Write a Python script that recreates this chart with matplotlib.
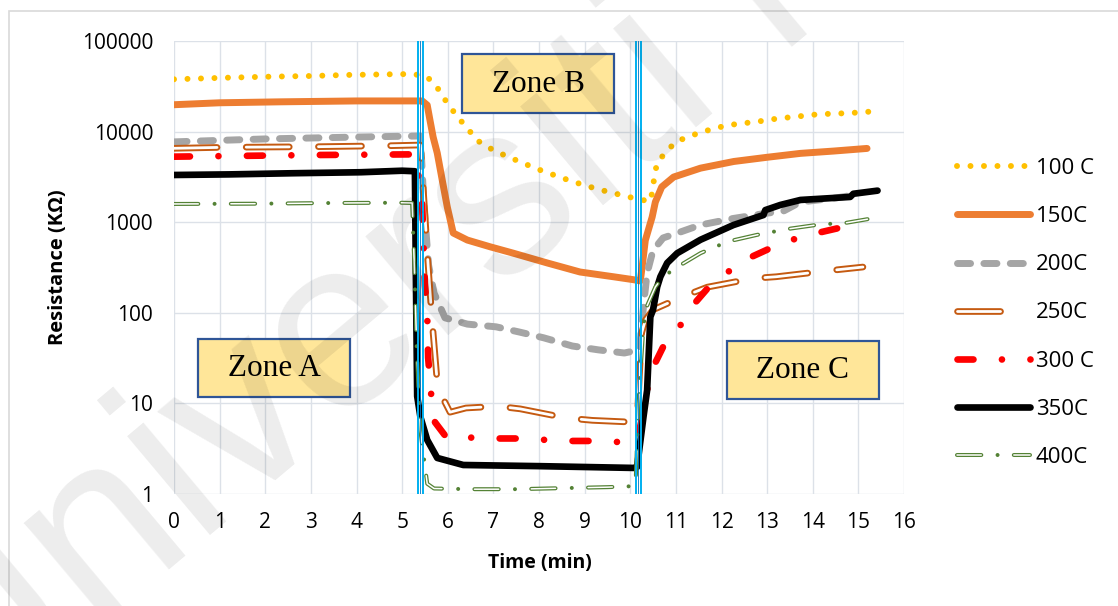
"""
Sensor resistance vs. time for a gas exposure cycle at seven operating temperatures.
Writes out.png.
"""
import matplotlib
matplotlib.use('Agg')
import matplotlib.pyplot as plt
import matplotlib.patches as mpatches
from matplotlib.lines import Line2D
from matplotlib.ticker import FixedLocator, NullLocator

plt.rcParams['font.family'] = ['Open Sans', 'DejaVu Sans']
plt.rcParams['lines.scale_dashes'] = False   # dash lengths below are in points

# ─── Data ────────────────────────────────────────────────────────────────────
# time in minutes, resistance in kOhm
t_100 = [0.0, 1.2, 2.1, 3.0, 3.8, 4.7, 5.25, 5.55, 5.75, 5.9, 6.07, 6.25, 6.45, 6.6,
         6.84, 7.1, 7.39, 7.65, 7.94, 8.2, 8.49, 8.75, 9.06, 9.32, 9.61, 9.89, 10.15,
         10.44, 10.5, 10.53, 10.6, 10.8, 11.0, 11.3, 11.6, 11.9, 12.15, 12.5, 12.75,
         13.0, 13.3, 13.6, 13.9, 14.2, 14.5, 14.8, 15.1, 15.4]
r_100 = [37800, 39400, 40400, 41100, 42200, 42900, 43200, 40000, 31800, 24000, 18200,
         13800, 10700, 8300, 6900, 5900, 5100, 4500, 3900, 3500, 3100, 2800, 2500, 2300,
         2100, 1950, 1800, 1700, 2370, 3400, 4600, 6100, 7700, 8900, 10000, 11000, 11800,
         12400, 12800, 13400, 14100, 14500, 15200, 15600, 15800, 16000, 16400, 16800]

t_150 = [0.0, 1.0, 2.3, 4.0, 5.44, 5.55, 5.61, 5.68, 5.77, 5.88, 5.99, 6.12, 6.43, 6.93,
         7.43, 8.18, 8.9, 9.63, 10.07, 10.22, 10.26, 10.33, 10.48, 10.55, 10.69, 10.95,
         11.54, 12.27, 12.99, 13.73, 14.46, 15.19]
r_150 = [19800, 20800, 21300, 21800, 21800, 19600, 13400, 8700, 5800, 2900, 1470, 760,
         635, 535, 456, 355, 282, 250, 232, 225, 320, 630, 1140, 1670, 2450, 3150, 3950,
         4680, 5200, 5750, 6100, 6520]

t_200 = [0.0, 1.0, 2.0, 3.0, 4.0, 5.4, 5.48, 5.58, 5.7, 5.94, 6.43, 7.06, 7.59, 8.1,
         8.73, 9.3, 9.87, 10.2, 10.3, 10.37, 10.5, 10.72, 11.1, 11.53, 12.26, 13.0,
         13.35, 13.73, 14.5, 14.93]
r_200 = [7700, 8000, 8300, 8500, 8700, 8950, 1500, 335, 165, 88, 75, 70, 61, 53, 43, 39,
         36, 39, 132, 275, 490, 670, 780, 930, 1100, 1260, 1320, 1670, 1850, 2000]

t_250 = [0.0, 1.1, 3.1, 4.7, 5.4, 5.5, 5.57, 5.65, 5.78, 6.05, 6.4, 7.1, 7.59, 8.6, 9.17,
         10.07, 10.15, 10.2, 10.25, 10.33, 10.5, 11.14, 11.69, 12.7, 13.2, 14.3, 15.1]
r_250 = [6540, 6710, 6810, 6980, 7110, 1200, 335, 90, 14.8, 8.0, 8.9, 9.3, 8.7, 6.9, 6.5,
         6.2, 6.2, 20, 60, 83, 108, 150, 192, 240, 250, 290, 320]

t_300 = [0.0, 1.5, 3.2, 5.3, 5.44, 5.5, 5.55, 5.57, 5.64, 5.72, 5.99, 6.56, 7.1, 7.59,
         8.16, 8.68, 9.19, 9.74, 10.1, 10.17, 10.28, 10.37, 10.5, 10.72, 11.07, 11.38,
         11.71, 12.13, 12.59, 13.03, 13.55, 14.1, 14.56]
r_300 = [5290, 5400, 5520, 5610, 1550, 200, 100, 32, 12, 6.2, 4.1, 4.2, 4.1, 4.1, 3.95,
         3.85, 3.85, 3.75, 3.75, 4.3, 7.8, 14, 25, 42, 69, 122, 190, 280, 400, 505, 640,
         760, 860]

t_350 = [0.0, 1.2, 2.6, 4.1, 5.0, 5.28, 5.3, 5.33, 5.4, 5.55, 5.77, 6.34, 8.0, 10.07,
         10.15, 10.29, 10.37, 10.44, 10.5, 10.59, 10.66, 10.81, 11.03, 11.54, 12.26,
         12.92, 12.96, 13.29, 13.73, 14.82, 14.89, 15.42]
r_350 = [3320, 3370, 3470, 3560, 3700, 3650, 300, 12, 7.1, 3.95, 2.5, 2.09, 2.03, 1.94,
         1.99, 7.1, 14, 90, 108, 193, 250, 355, 455, 640, 930, 1200, 1360, 1550, 1760,
         1900, 2060, 2230]

t_400 = [0.0, 1.8, 3.5, 5.0, 5.22, 5.27, 5.32, 5.4, 5.55, 5.7, 6.5, 7.5, 8.5, 9.5, 10.07,
         10.12, 10.18, 10.28, 10.33, 10.55, 10.72, 11.03, 11.54, 11.86, 12.19, 12.78,
         13.11, 13.44, 14.06, 14.39, 14.71, 15.2]
r_400 = [1590, 1600, 1630, 1640, 1630, 300, 40, 5, 1.3, 1.15, 1.13, 1.13, 1.16, 1.19,
         1.22, 1.4, 10, 60, 108, 193, 250, 320, 455, 535, 620, 725, 780, 840, 930, 960,
         980, 1080]

labels = ['100 C', '150C', '200C', '250C', '300 C', '350C', '400C']

# gas in / gas out instants (min)
boundaries = [5.405, 10.18]
zones = ['Zone A', 'Zone B', 'Zone C']

# ─── Styles ──────────────────────────────────────────────────────────────────
# each entry: list of line kwargs drawn on top of each other (outlined dashes = 2 layers)
STYLES = [
    [dict(color='#FFC000', lw=4.3, dashes=(0.01, 9.7), dash_capstyle='round')],
    [dict(color='#ED7D31', lw=5.0, solid_capstyle='round')],
    [dict(color='#A5A5A5', lw=5.0, dashes=(9.4, 9.6), dash_capstyle='round')],
    [dict(color='#C55A11', lw=4.8, dashes=(31, 21), dash_capstyle='round'),
     dict(color='white', lw=2.0, dashes=(31, 21), dash_capstyle='round')],
    [dict(color='#FF0000', lw=4.8, dashes=(11.5, 20.5, 0.01, 20.5), dash_capstyle='round')],
    [dict(color='black', lw=4.8, solid_capstyle='round', solid_joinstyle='round')],
    [dict(color='#548235', lw=2.9, dashes=(17.5, 11.7, 0.01, 11.7), dash_capstyle='round'),
     dict(color='white', lw=1.1, dashes=(17.5, 23.41), dash_capstyle='round')],
]
# legend samples are short; the long brown dash needs a wider gap so no stub shows
LEGEND_DASHES = {3: (31, 40)}

W, H = 1118, 606


def fx(px):
    return px / W


def fy(py):
    return 1 - py / H


def plot_series(ax, t, r, layers, z, legend_dashes=None):
    """Draw one series (possibly several stacked layers) and return legend handle."""
    handles = []
    for k, kw in enumerate(layers):
        ax.plot(t, r, zorder=z + 0.1 * k, **kw)
        hkw = dict(kw)
        if legend_dashes is not None:
            hkw['dashes'] = legend_dashes
        handles.append(Line2D([], [], **hkw))
    return tuple(handles) if len(handles) > 1 else handles[0]


def add_zone_box(fig, text, x0, y0, x1, y1):
    """Yellow annotation box, pixel coords of the figure."""
    rect = mpatches.Rectangle((fx(x0), fy(y1)), fx(x1) - fx(x0), fy(y0) - fy(y1),
                              transform=fig.transFigure, facecolor='#FFE699',
                              edgecolor='#2F5597', lw=1.6, zorder=20)
    fig.add_artist(rect)
    fig.text(fx((x0 + x1) / 2), fy((y0 + y1) / 2 + 1), text, ha='center', va='center',
             fontsize=22.5, family='Liberation Serif', zorder=21)


fig = plt.figure(figsize=(W / 100, H / 100), dpi=100)
ax = fig.add_axes([fx(174), fy(494), fx(904) - fx(174), fy(41) - fy(494)])

# ─── Axes ────────────────────────────────────────────────────────────────────
ax.set_yscale('log')
ax.set_xlim(0, 16)
ax.set_ylim(1, 100000)
ax.xaxis.set_major_locator(FixedLocator(range(0, 17)))
ax.set_xticklabels([str(i) for i in range(0, 17)])
yt = [1, 10, 100, 1000, 10000, 100000]
ax.yaxis.set_major_locator(FixedLocator(yt))
ax.yaxis.set_minor_locator(NullLocator())
ax.set_yticklabels([str(v) for v in yt])
ax.tick_params(length=0, labelsize=15)
ax.tick_params(axis='x', pad=13)
ax.tick_params(axis='y', pad=15)
ax.grid(True, color='#DCE1E8', lw=1.0, zorder=0)
ax.set_axisbelow(True)
for s in ax.spines.values():
    s.set_visible(False)

# ─── Series ──────────────────────────────────────────────────────────────────
series = [(t_100, r_100), (t_150, r_150), (t_200, r_200), (t_250, r_250),
          (t_300, r_300), (t_350, r_350), (t_400, r_400)]
handles = []
for i, ((t, r), st) in enumerate(zip(series, STYLES)):
    handles.append(plot_series(ax, t, r, st, 3 + i, LEGEND_DASHES.get(i)))

# gas on / off markers (double rule)
for b in boundaries:
    ax.axvline(b - 0.06, color='#00B0F0', lw=1.4, zorder=12)
    ax.axvline(b - 0.02, color='#0070C0', lw=0.6, zorder=12)
    ax.axvline(b + 0.06, color='#00B0F0', lw=1.4, zorder=12)

# ─── Legend ──────────────────────────────────────────────────────────────────
fig.legend(handles, labels, loc='center left', bbox_to_anchor=(fx(957), fy(313)),
           frameon=False, fontsize=16, handlelength=3.3, handletextpad=0.25,
           labelspacing=1.22, borderpad=0, borderaxespad=0)

# ─── Labels / annotations ────────────────────────────────────────────────────
fig.text(fx(57.5), fy(267.5), 'Resistance (KΩ)', rotation=90, ha='center', va='center',
         fontsize=14.5, fontweight='bold')
fig.text(fx(540), fy(563), 'Time (min)', ha='center', va='center',
         fontsize=14, fontweight='bold')

add_zone_box(fig, zones[0], 198, 339, 350, 397)
add_zone_box(fig, zones[1], 462, 54, 614, 113)
add_zone_box(fig, zones[2], 727, 341, 879, 399)

# chart frame
fig.add_artist(mpatches.Rectangle((fx(9), -0.05), 1.1, fy(11) + 0.05,
                                  transform=fig.transFigure, fill=False,
                                  edgecolor='#D9D9D9', lw=1.2))

# repository watermark
fig.text(fx(-40), fy(745), 'Universiti Malaya', rotation=40, rotation_mode='anchor',
         ha='left', va='baseline', fontsize=175, family='Liberation Sans',
         color='black', alpha=0.075, zorder=50)

fig.savefig('out.png', dpi=100)
